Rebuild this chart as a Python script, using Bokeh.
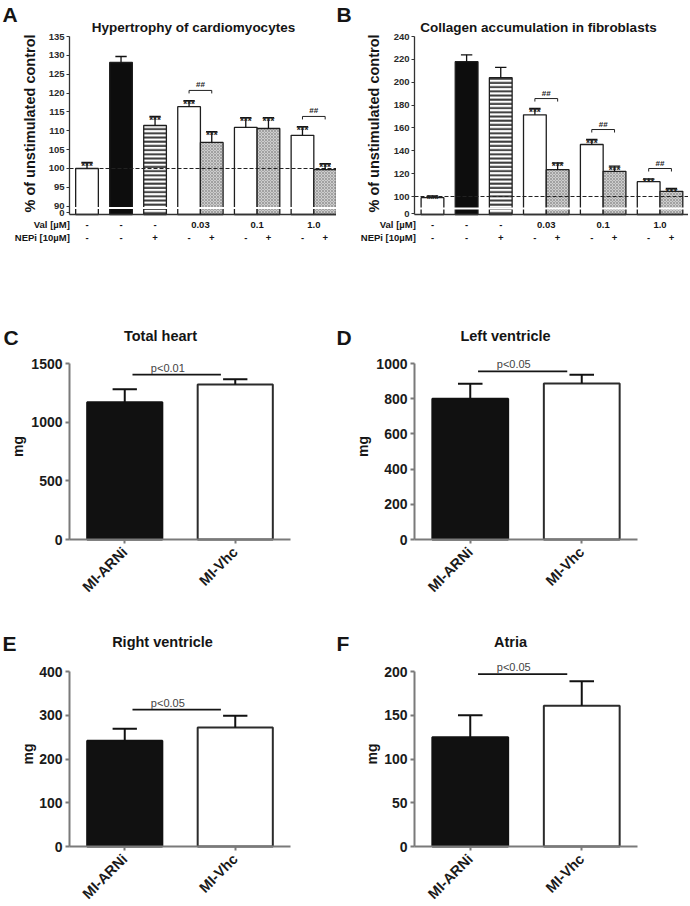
import math
from bokeh.plotting import figure
from bokeh.models import Range1d, FixedTicker, Label
from bokeh.layouts import column, row
from bokeh.embed import file_html
from bokeh.resources import INLINE
from bokeh.core.properties import value

FONT = "Liberation Sans"

# ---------------- data: panel A (hypertrophy of cardiomyocytes) ----------------
a_val_row = ["-", "-", "-", "0.03", "0.03", "0.1", "0.1", "1.0", "1.0"]
a_nepi_row = ["-", "-", "+", "-", "+", "-", "+", "-", "+"]
a_means = [100, 128.1, 111.4, 116.4, 106.9, 110.9, 110.6, 108.8, 99.7]
a_sem = [1.6, 1.6, 2.4, 1.6, 2.9, 2.6, 2.9, 2.3, 1.6]
a_marks = ["***", "", "***", "***", "***", "***", "***", "***", "***"]
a_hash_groups = ["0.03", "1.0"]
a_hash_levels = [120.7, 113.8]
a_yticks = [90, 95, 100, 105, 110, 115, 120, 125, 130, 135]

# ---------------- data: panel B (collagen accumulation in fibroblasts) ----------------
b_val_row = ["-", "-", "-", "0.03", "0.03", "0.1", "0.1", "1.0", "1.0"]
b_nepi_row = ["-", "-", "+", "-", "+", "-", "+", "-", "+"]
b_means = [99, 218, 204, 171.5, 123.5, 145.5, 122, 113, 104.5]
b_sem = [1.5, 6, 9, 5.5, 6, 4.5, 4.5, 2.5, 2.5]
b_marks = ["***", "", "", "***", "***", "***", "***", "***", "***"]
b_hash_groups = ["0.03", "0.1", "1.0"]
b_hash_levels = [185.7, 158.6, 124.5]
b_yticks = [100, 120, 140, 160, 180, 200, 220, 240]

# bar styles (open, solid, stripes, dotted)
bar_kinds = ["open", "solid", "stripes", "open", "dots", "open", "dots", "open", "dots"]

# ---------------- data: panels C-F (organ weights, mg) ----------------
groups = ["MI-ARNi", "MI-Vhc"]
c_means, c_sem, c_p, c_pt = [1170, 1320], [110, 45], 1406, "p<0.01"
d_means, d_sem, d_p, d_pt = [800, 886], [85, 50], 955, "p<0.05"
e_means, e_sem, e_p, e_pt = [242, 272], [27, 27], 313, "p<0.05"
f_means, f_sem, f_p, f_pt = [125, 161], [25, 28], 197, "p<0.05"
c_ticks = [0, 500, 1000, 1500]
d_ticks = [0, 200, 400, 600, 800, 1000]
e_ticks = [0, 100, 200, 300, 400]
f_ticks = [0, 50, 100, 150, 200]


def base_figure(box, frame, drange):
    """box: figure page box (x0, x1, top, bottom); frame: axis box (L, R, T, B) in page px;
    drange: data values at the axis box edges (x0, x1, y0, y1)."""
    fx0, fx1, ftop, fbot = box
    L, R, T, B = frame
    x0, x1, y0, y1 = drange
    ppx = (R - L) / (x1 - x0)
    ppy = (B - T) / (y1 - y0)
    xr = Range1d(x0 - (L - fx0) / ppx, x1 + (fx1 - R) / ppx)
    yr = Range1d(y0 - (fbot - B) / ppy, y1 + (T - ftop) / ppy)
    p = figure(width=fx1 - fx0, height=fbot - ftop, x_range=xr, y_range=yr,
               output_backend="svg", toolbar_location=None, min_border=0)
    p.title.visible = False
    p.outline_line_color = None
    p.xgrid.visible = False
    p.ygrid.visible = False
    p.xaxis.fixed_location = y0
    p.xaxis.bounds = (x0, x1)
    p.yaxis.fixed_location = x0
    p.yaxis.bounds = (y0, y1)
    for ax in (p.xaxis, p.yaxis):
        ax.minor_tick_line_color = None
        ax.major_tick_in = 0
        ax.major_label_text_font = FONT
        ax.major_label_text_font_style = "bold"
    return p, ppy


def slabel(p, box, X, Y, text, size, bold=True, align="center", baseline="middle",
           angle=0.0, color="#151515", xdata=None):
    fx0, fx1, ftop, fbot = box
    kw = dict(text=text, text_font=FONT, text_font_size=f"{size}px",
              text_font_style="bold" if bold else "normal", text_align=align,
              text_baseline=baseline, angle=angle, text_color=color,
              y=fbot - Y, y_units="screen")
    if xdata is None:
        kw.update(x=X - fx0, x_units="screen")
    else:
        kw.update(x=xdata, x_units="data")
    p.add_layout(Label(**kw))


def bar_positions(val_row):
    xs, x, prev = [], 0.0, None
    for i, v in enumerate(val_row):
        key = v if v != "-" else ("single", i)
        if i > 0:
            x += 1.0 if key == prev else 1.5
        xs.append(x)
        prev = key
    return xs


def make_top(box, frame, drange, title, title_x, letter, letter_x, ylab_x, rowlab_x,
             means, sem, marks, val_row, nepi_row, hash_groups, hash_levels,
             yticks, zero_y, break_y):
    p, ppy = base_figure(box, frame, drange)
    x0, x1, y0, y1 = drange
    xs = bar_positions(val_row)
    styles = {
        "open": dict(fill_color="white"),
        "solid": dict(fill_color="#0d0d0d"),
        "stripes": dict(fill_color="white", hatch_pattern="horizontal_line",
                        hatch_color="#3a3a3a", hatch_weight=2, hatch_scale=4.2),
        "dots": dict(fill_color="#cdcdcd", hatch_pattern="x", hatch_color="#8e8e8e",
                     hatch_weight=0.7, hatch_scale=3),
    }
    for kind, st in styles.items():
        idx = [i for i, k in enumerate(bar_kinds) if k == kind]
        p.vbar(x=[xs[i] for i in idx], top=[means[i] for i in idx], bottom=y0, width=1.0,
               line_color="#1e1e1e", line_width=1.3, **st)

    # white axis-break line and dashed 100 % reference
    p.segment(x0=[x0], y0=[break_y], x1=[x1], y1=[break_y], line_color="white", line_width=2)
    p.segment(x0=[x0], y0=[100], x1=[x1], y1=[100], line_color="#222222", line_width=1.2,
              line_dash="4 2")

    # error bars (upper)
    tops = [m + s for m, s in zip(means, sem)]
    p.segment(x0=xs, y0=means, x1=xs, y1=tops, line_color="#111111", line_width=1.3)
    p.segment(x0=[x - 0.25 for x in xs], y0=tops, x1=[x + 0.25 for x in xs], y1=tops,
              line_color="#111111", line_width=1.3)
    p.text(x=xs, y=tops, text=marks, text_font=value(FONT), text_font_size="10px",
           text_font_style="bold", text_align="center", text_baseline="alphabetic",
           y_offset=4, text_color="#222222")

    # ## brackets
    tick = 3 / ppy
    for g, lev in zip(hash_groups, hash_levels):
        gi = [i for i, v in enumerate(val_row) if v == g]
        xa, xb = xs[gi[0]], xs[gi[-1]]
        p.segment(x0=[xa, xa, xb], y0=[lev, lev, lev], x1=[xb, xa, xb],
                  y1=[lev, lev - tick, lev - tick], line_color="#222222", line_width=1)
        p.text(x=[(xa + xb) / 2], y=[lev], text=["##"], text_font=value(FONT),
               text_font_size="8px", text_font_style="bold", text_align="center",
               text_baseline="bottom", y_offset=-1, text_color="#222222")

    # axes
    p.yaxis.ticker = FixedTicker(ticks=[zero_y] + yticks)
    p.yaxis.major_label_overrides = {zero_y: "0"}
    p.yaxis.major_label_text_font_size = "9.5px"
    p.yaxis.major_label_text_color = "#2a2a2a"
    p.yaxis.major_label_standoff = 2
    p.yaxis.major_tick_out = 3
    p.yaxis.axis_line_color = "#333333"
    p.yaxis.axis_line_width = 1.3
    p.yaxis.major_tick_line_color = "#333333"
    p.xaxis.ticker = FixedTicker(ticks=[])
    p.xaxis.major_label_text_font_size = "0px"
    p.xaxis.axis_line_color = "#333333"
    p.xaxis.axis_line_width = 1.3
    p.xaxis.major_tick_line_color = None

    # texts outside the axes box
    slabel(p, box, title_x, 27, title, 13.5)
    slabel(p, box, letter_x, 14, letter, 21, align="left")
    slabel(p, box, ylab_x, 123, "% of unstimulated control", 14.5, angle=math.pi / 2)
    slabel(p, box, rowlab_x, 224, "Val  [µM]", 9.5, align="right")
    slabel(p, box, rowlab_x, 237, "NEPi  [10µM]", 9.5, align="right")
    done = set()
    for i, v in enumerate(val_row):
        if v == "-":
            slabel(p, box, 0, 224, "-", 9.5, xdata=xs[i])
        elif v not in done:
            gi = [j for j, w in enumerate(val_row) if w == v]
            slabel(p, box, 0, 224, v, 9.5, xdata=sum(xs[j] for j in gi) / len(gi))
            done.add(v)
    for i, n in enumerate(nepi_row):
        slabel(p, box, 0, 237, n, 9.5, xdata=xs[i])
    return p


def make_bottom(box, frame, title, title_x, title_y, letter, letter_x,
                means, sem, plevel, ptext, yticks, ylab_x):
    p, ppy = base_figure(box, frame, (0, 2, 0, yticks[-1]))
    L, R, T, B = frame
    xs = [0.5, 1.5]
    p.vbar(x=xs, top=means, width=0.68, fill_color=["#111111", "white"],
           line_color=["#111111", "#2b2b2b"], line_width=2)
    tops = [m + s for m, s in zip(means, sem)]
    p.segment(x0=xs, y0=means, x1=xs, y1=tops, line_color="#111111", line_width=2)
    p.segment(x0=[x - 0.11 for x in xs], y0=tops, x1=[x + 0.11 for x in xs], y1=tops,
              line_color="#111111", line_width=2)
    p.segment(x0=[0.57], y0=[plevel], x1=[1.37], y1=[plevel], line_color="#151515",
              line_width=1.8)
    p.text(x=[0.89], y=[plevel], text=[ptext], text_font=value(FONT), text_font_size="11px",
           text_align="center", text_baseline="bottom", y_offset=-1,
           text_color="#444444")

    p.xaxis.ticker = FixedTicker(ticks=xs)
    p.xaxis.major_label_overrides = {0.5: groups[0], 1.5: groups[1]}
    p.xaxis.major_label_orientation = math.pi / 4
    for ax in (p.xaxis, p.yaxis):
        ax.major_label_text_font_size = "14px"
        ax.major_label_text_color = "#1a1a1a"
        ax.axis_line_color = "#7a7a7a"
        ax.axis_line_width = 2
        ax.major_tick_line_color = "#7a7a7a"
        ax.major_tick_line_width = 2
        ax.major_tick_out = 4
        ax.major_label_standoff = 3
    p.xaxis.major_label_text_font_size = "14.5px"
    p.xaxis.major_label_standoff = 6
    p.yaxis.ticker = FixedTicker(ticks=yticks)

    slabel(p, box, title_x, title_y, title, 14.5)
    slabel(p, box, letter_x, title_y + 1.5, letter, 21, align="left")
    slabel(p, box, ylab_x, (T + B) / 2 - 5, "mg", 14, angle=math.pi / 2)
    return p


pa = make_top((0, 336, 0, 300), (69, 336, 36, 214), (-0.772, 11.0, 87.8, 135),
              "Hypertrophy of cardiomyocytes", 193, "A", 2, 29, 72,
              a_means, a_sem, a_marks, a_val_row, a_nepi_row, a_hash_groups, a_hash_levels,
              a_yticks, 88.3, 89.5)
pb = make_top((336, 688, 0, 300), (414, 688, 36, 214), (-0.79, 11.25, 84.25, 240),
              "Collagen accumulation in fibroblasts", 538, "B", 336, 373, 418,
              b_means, b_sem, b_marks, b_val_row, b_nepi_row, b_hash_groups, b_hash_levels,
              b_yticks, 85.0, 89.5)
pc = make_bottom((0, 336, 300, 615), (69, 290, 363, 539), "Total heart", 160, 335, "C", 3,
                 c_means, c_sem, c_p, c_pt, c_ticks, 17)
pd = make_bottom((336, 688, 300, 615), (414, 637, 363, 539), "Left ventricle", 505, 335,
                 "D", 336, d_means, d_sem, d_p, d_pt, d_ticks, 362)
pe = make_bottom((0, 336, 615, 905), (69, 290, 671, 846), "Right ventricle", 162, 641, "E", 2,
                 e_means, e_sem, e_p, e_pt, e_ticks, 27)
pf = make_bottom((336, 688, 615, 905), (414, 637, 671, 846), "Atria", 510, 641, "F", 336,
                 f_means, f_sem, f_p, f_pt, f_ticks, 371)

layout = column(row(pa, pb), row(pc, pd), row(pe, pf))
open("out.html", "w").write(file_html(layout, INLINE))
